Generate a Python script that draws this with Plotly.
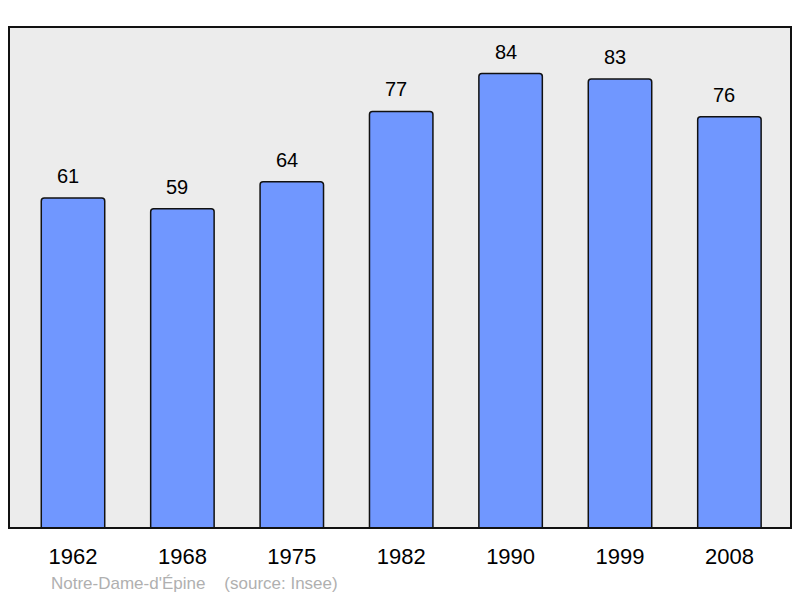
import plotly.graph_objects as go

years = ["1962", "1968", "1975", "1982", "1990", "1999", "2008"]
population = [61, 59, 64, 77, 84, 83, 76]
footer = "Notre-Dame-d'Épine\u00a0\u00a0\u00a0\u00a0(source: Insee)"

fig = go.Figure(go.Bar(
    x=years,
    y=population,
    width=0.58,
    marker=dict(color="#7097ff", line=dict(color="#111", width=1.5), cornerradius=3),
    hoverinfo="skip",
))

# value labels floating above each bar (category axis -> use the index)
labels = [dict(x=i, y=v, text=str(v), xref="x", yref="y", showarrow=False,
               yanchor="middle", yshift=22, xshift=-5,
               font=dict(size=20, color="black"))
          for i, v in enumerate(population)]

labels.append(dict(text=footer, xref="paper", yref="paper", x=0.051, y=-0.11,
                   xanchor="left", yanchor="middle", showarrow=False,
                   font=dict(size=17, color="#b0b0b0")))

# page body adds an 8px margin, so the figure is a bit smaller than the window
fig.update_layout(
    width=792, height=590,
    margin=dict(l=1, r=9, t=19, b=70),
    paper_bgcolor="white",
    plot_bgcolor="#ececec",
    font=dict(family="Liberation Sans", color="black"),
    showlegend=False,
    xaxis=dict(type="category", range=[-0.585, 6.563], showgrid=False, zeroline=False,
               ticks="", tickfont=dict(size=22), ticklabelstandoff=13),
    yaxis=dict(range=[0, 92.6], showgrid=False, zeroline=False, showticklabels=False),
    shapes=[dict(type="rect", xref="paper", yref="paper", x0=0, y0=0, x1=1, y1=1,
                 line=dict(color="#111", width=2))],
    annotations=labels,
)

fig.write_html("out.html")
